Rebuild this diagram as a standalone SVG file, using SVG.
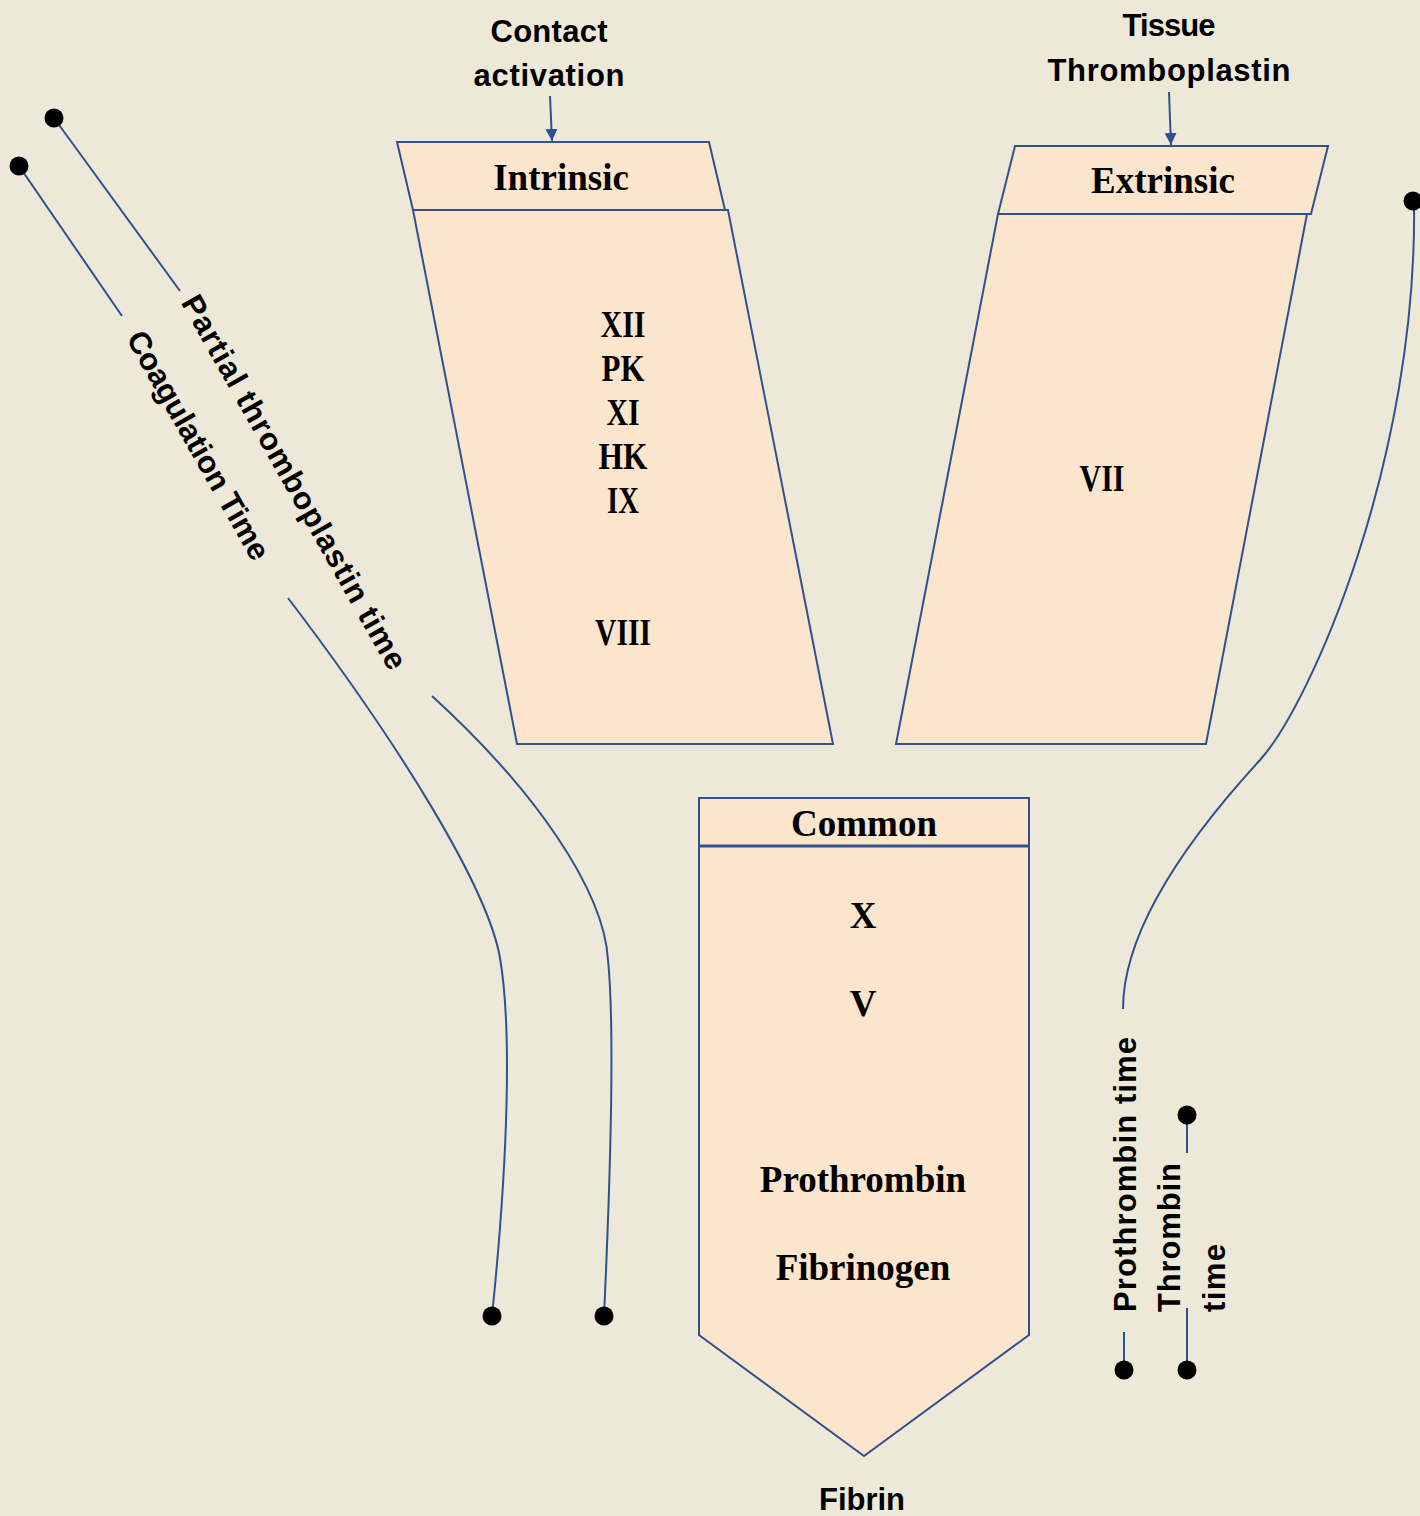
<svg xmlns="http://www.w3.org/2000/svg" width="1420" height="1516" viewBox="0 0 1420 1516">
<defs>
<style>
.bg{fill:#EEE8D8}
.box{fill:#FCE5CD;stroke:#2F528F;stroke-width:2;stroke-linejoin:miter}
.ln{fill:none;stroke:#2F528F;stroke-width:2}
.dot{fill:#000}
.serif{font-family:"Liberation Serif","Times New Roman",serif;font-weight:bold;font-size:37px;fill:#000;text-anchor:middle}
.sans{font-family:"Liberation Sans",Arial,sans-serif;font-weight:bold;font-size:31px;fill:#000}
.mid{text-anchor:middle}
</style>
<marker id="arr" viewBox="0 0 10 10" refX="10" refY="5" markerWidth="6" markerHeight="6" orient="auto" markerUnits="strokeWidth">
<path d="M0,0 L10,5 L0,10 z" fill="#2F528F"/>
</marker>
</defs>
<rect class="bg" x="0" y="0" width="1420" height="1516"/>

<g id="label-contact">
<text class="sans mid" x="549" y="42" textLength="117">Contact</text>
<text class="sans mid" x="549" y="86" textLength="151">activation</text>
</g>
<g id="label-tissue">
<text class="sans mid" x="1169" y="36" textLength="93">Tissue</text>
<text class="sans mid" x="1169" y="81" textLength="243">Thromboplastin</text>
</g>

<g id="intrinsic">
<polygon class="box" points="413,210 728,210 833,744 517,744"/>
<polygon class="box" points="397,142 709,142 725,210 413,210"/>
<text class="serif" x="561" y="190">Intrinsic</text>
<text class="serif" x="623" y="337" textLength="45" lengthAdjust="spacingAndGlyphs">XII</text>
<text class="serif" x="623" y="381" textLength="43" lengthAdjust="spacingAndGlyphs">PK</text>
<text class="serif" x="623" y="425" textLength="33" lengthAdjust="spacingAndGlyphs">XI</text>
<text class="serif" x="623" y="469" textLength="49" lengthAdjust="spacingAndGlyphs">HK</text>
<text class="serif" x="623" y="513" textLength="32" lengthAdjust="spacingAndGlyphs">IX</text>
<text class="serif" x="623" y="645" textLength="56" lengthAdjust="spacingAndGlyphs">VIII</text>
</g>

<g id="extrinsic">
<polygon class="box" points="998,214 1307,214 1206,744 896,744"/>
<polygon class="box" points="1015,146 1328,146 1311,214 998,214"/>
<text class="serif" x="1163" y="193">Extrinsic</text>
<text class="serif" x="1102" y="491" textLength="45" lengthAdjust="spacingAndGlyphs">VII</text>
</g>

<g id="common">
<polygon class="box" points="699,846 1029,846 1029,1335 864,1456 699,1335"/>
<rect class="box" x="699" y="798" width="330" height="48"/>
<line x1="699" y1="846" x2="1029" y2="846" stroke="#2F528F" stroke-width="3"/>
<text class="serif" x="864" y="836">Common</text>
<text class="serif" x="863" y="928">X</text>
<text class="serif" x="863" y="1016">V</text>
<text class="serif" x="863" y="1192">Prothrombin</text>
<text class="serif" x="863" y="1280">Fibrinogen</text>
</g>

<g id="label-fibrin">
<text class="sans mid" x="862" y="1510" textLength="86">Fibrin</text>
</g>

<g id="connectors">
<line class="ln" x1="550" y1="96" x2="552" y2="141" marker-end="url(#arr)"/>
<line class="ln" x1="1169" y1="92" x2="1171" y2="145" marker-end="url(#arr)"/>
<line class="ln" x1="54" y1="118" x2="180" y2="291"/>
<line class="ln" x1="19" y1="166" x2="122" y2="316"/>
<path class="ln" d="M288,598 C400,745 488,888 500,958 C512,1028 508,1160 492,1316"/>
<path class="ln" d="M432,696 C535,790 604,890 608,960 C612,1000 614,1100 604,1316"/>
<path class="ln" d="M1414,201 C1418,460 1310,705 1260,760 C1205,820 1123,920 1123,1009"/>
<line class="ln" x1="1124" y1="1332" x2="1124" y2="1368"/>
<line class="ln" x1="1187" y1="1115" x2="1187" y2="1153"/>
<line class="ln" x1="1187" y1="1308" x2="1187" y2="1368"/>
<circle class="dot" cx="54" cy="118" r="9.5"/>
<circle class="dot" cx="19" cy="166" r="9.5"/>
<circle class="dot" cx="492" cy="1316" r="9.5"/>
<circle class="dot" cx="604" cy="1316" r="9.5"/>
<circle class="dot" cx="1413" cy="201" r="9.5"/>
<circle class="dot" cx="1124" cy="1370" r="9.5"/>
<circle class="dot" cx="1187" cy="1115" r="9.5"/>
<circle class="dot" cx="1187" cy="1370" r="9.5"/>
</g>

<g id="label-ptt">
<text class="sans mid" transform="translate(293,483) rotate(60.5)" x="0" y="9" textLength="425">Partial thromboplastin time</text>
</g>
<g id="label-ct">
<text class="sans mid" transform="translate(197,446) rotate(60.5)" x="0" y="9" textLength="258">Coagulation Time</text>
</g>
<g id="label-pt">
<text class="sans" transform="translate(1136,1312) rotate(-90)" x="0" y="0" textLength="275">Prothrombin time</text>
</g>
<g id="label-tt">
<text class="sans" transform="translate(1180,1312) rotate(-90)" x="0" y="0" textLength="149">Thrombin</text>
<text class="sans" transform="translate(1225,1312) rotate(-90)" x="0" y="0" textLength="68">time</text>
</g>
</svg>
